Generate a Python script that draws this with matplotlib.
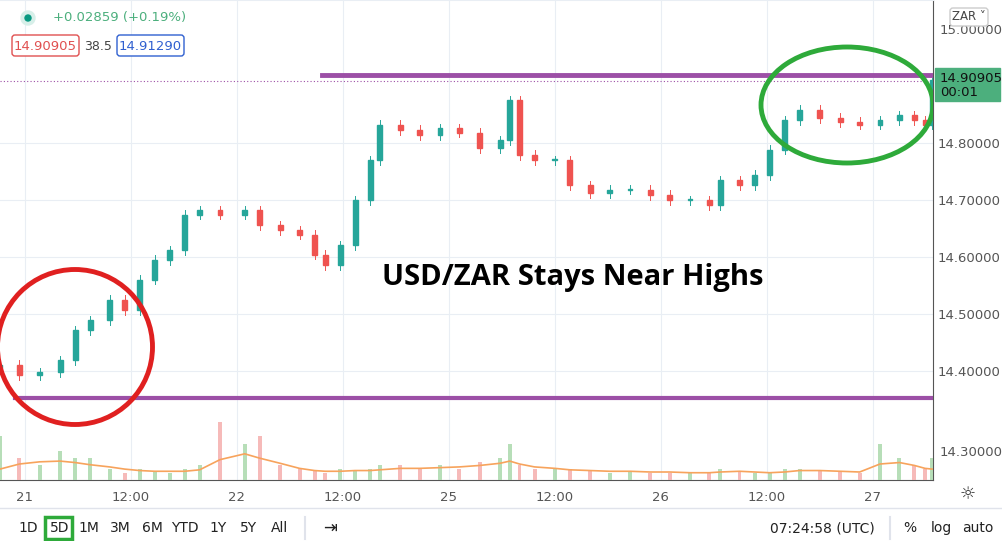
import matplotlib
matplotlib.use("Agg")
import matplotlib.pyplot as plt
from matplotlib.patches import Ellipse, FancyBboxPatch, Rectangle

hours = [-2.8,-0.6,1.7,4.0,5.7,7.4,9.6,11.3,13.0,14.7,16.4,18.1,19.8,22.1,24.9,26.6,28.9,31.1,32.8,34.0,35.7,37.4,39.1,40.2,42.5,44.7,47.0,49.2,51.5,53.8,54.9,56.0,57.7,60.0,61.7,64.0,66.2,68.5,70.8,73.0,75.3,77.5,78.7,80.9,82.6,84.3,86.0,87.7,90.0,92.3,94.5,96.8,99.0,100.7,101.9,102.7]
close = [14.411,14.393,14.398,14.419,14.472,14.489,14.525,14.507,14.560,14.595,14.612,14.674,14.682,14.674,14.682,14.656,14.647,14.639,14.604,14.586,14.621,14.700,14.770,14.832,14.823,14.814,14.826,14.818,14.791,14.805,14.875,14.779,14.770,14.770,14.726,14.712,14.718,14.718,14.709,14.700,14.700,14.691,14.735,14.726,14.744,14.788,14.840,14.858,14.844,14.837,14.832,14.840,14.849,14.840,14.832,14.911]
volume = [6,3,2,4,3,3,1.5,1,1.5,1.2,1,1.5,2,8,5,6,2,1.5,1.2,1,1.5,1.2,1.5,2,2,1.5,2,1.5,2.5,3,5,2,1.5,1.5,1.5,1.2,1,1.2,1,1,1,1,1.5,1.2,1,1,1.5,1.5,1.2,1.2,1,5,3,2,1.5,3]
vol_ma = [1.5,2.2,2.5,2.6,2.4,2.1,1.8,1.5,1.3,1.2,1.2,1.2,1.4,2.8,3.6,3.0,2.3,1.6,1.3,1.2,1.2,1.3,1.3,1.4,1.6,1.6,1.7,1.8,2.0,2.3,2.6,2.2,1.8,1.6,1.4,1.3,1.2,1.2,1.1,1.1,1.0,1.0,1.1,1.2,1.1,1.0,1.1,1.3,1.3,1.2,1.1,2.2,2.4,2.0,1.6,1.5]
xtick_pos = [0,12,24,36,48,60,72,84,96]
xtick_lab = ["21","12:00","22","12:00","25","12:00","26","12:00","27"]
ytick_vals = [14.4,14.5,14.6,14.7,14.8]
upper_level = 14.919
lower_level = 14.353
last_price = 14.90905

W,H = 1002,541
fig = plt.figure(figsize=(W/100,H/100),dpi=100)
def rect(x0,y0,x1,y1):
    return [x0/W,1-y1/H,(x1-x0)/W,(y1-y0)/H]
ax = fig.add_axes(rect(0,0,933,480))
ax.set_xlim(-2.8,102.8)
ax.set_ylim(14.209,15.051)
for s in ax.spines.values(): s.set_visible(False)
ax.spines['right'].set_visible(True); ax.spines['right'].set_color('#555')
ax.spines['bottom'].set_visible(True); ax.spines['bottom'].set_color('#555')
ax.yaxis.tick_right()
ax.set_yticks(ytick_vals)
ax.set_yticklabels([f"{v:.5f}" for v in ytick_vals],color='#555',fontsize=9.5)
ax.set_xticks(xtick_pos)
ax.set_xticklabels(xtick_lab,color='#555',fontsize=9.5)
ax.tick_params(axis='y',length=0,pad=3)
ax.tick_params(axis='x',length=0,pad=8)
ax.grid(True,color='#e9eef4',lw=0.8)
ax.set_axisbelow(True)

# candles
w=0.55
prev=close[0]-0.005
for t,c in zip(hours,close):
    o=prev
    col='#26a69a' if c>=o else '#ef5350'
    hi=max(o,c)+0.008; lo=min(o,c)-0.008
    ax.plot([t,t],[lo,hi],color=col,lw=0.7,zorder=3)
    ax.add_patch(Rectangle((t-w/2,min(o,c)),w,max(abs(c-o),0.002),color=col,zorder=3))
    prev=c

# volume
vax = fig.add_axes(rect(0,400,933,480))
vax.set_xlim(ax.get_xlim()); vax.set_ylim(0,11); vax.axis('off')
prev=close[0]
for t,v,c in zip(hours,volume,close):
    vax.bar(t,v,width=0.45,color='#a5d6a7' if c>=prev else '#f4a9a8',alpha=0.8)
    prev=c
vax.plot(hours,vol_ma,color='#f7a35c',lw=1.2)

# levels
ax.plot([33.6,102.8],[upper_level]*2,color='#9c4fa6',lw=3.5,zorder=4)
ax.plot([-1.1,102.8],[lower_level]*2,color='#9c4fa6',lw=3,zorder=4)
ax.axhline(last_price,color='#9c4fa6',lw=0.8,ls=(0,(1,2)),zorder=2)

# ellipses in pixel space
ax2 = fig.add_axes(rect(0,0,933,480)); ax2.set_xlim(0,933); ax2.set_ylim(480,0); ax2.axis('off')
ax2.add_patch(Ellipse((75,347),155,155,fill=False,ec='#e02020',lw=3.5))
ax2.add_patch(Ellipse((847,105),172,116,fill=False,ec='#2eaa3a',lw=3.5))
ax2.text(573,277,"USD/ZAR Stays Near Highs",fontsize=21,fontweight='bold',family='Open Sans',ha='center',va='center')

# overlay
ov = fig.add_axes([0,0,1,1]); ov.set_xlim(0,W); ov.set_ylim(H,0); ov.axis('off')
ov.add_patch(Rectangle((935,68),65,33,color='#4caf7d'))
ov.text(940,78,"14.90905",fontsize=9.5,va='center',color='#111')
ov.text(940,93,"00:01",fontsize=9.5,va='center',color='#111')
ov.text(940,30,"15.00000",fontsize=9.5,va='center',color='#555')
ov.text(940,453,"14.30000",fontsize=9.5,va='center',color='#555')
ov.add_patch(FancyBboxPatch((950,8),38,18,boxstyle='round,pad=0,rounding_size=3',fc='white',ec='#ccc',zorder=5))
ov.text(969,17,"ZAR ˅",fontsize=8.5,ha='center',va='center',color='#444',zorder=6)
ov.plot([0,933],[0,0],color='#e9eef4')
ov.add_patch(Ellipse((28,18),14,14,color='#d7efe9')); ov.add_patch(Ellipse((28,18),6,6,color='#089981'))
ov.text(53,18,"+0.02859 (+0.19%)",fontsize=9.5,color='#4caf7d',va='center')
ov.add_patch(FancyBboxPatch((12,35),67,21,boxstyle='round,pad=0,rounding_size=3',fc='white',ec='#e05050'))
ov.text(45,46,"14.90905",fontsize=9.5,color='#e05050',ha='center',va='center')
ov.text(98,46,"38.5",fontsize=9,color='#444',ha='center',va='center')
ov.add_patch(FancyBboxPatch((117,35),67,21,boxstyle='round,pad=0,rounding_size=3',fc='white',ec='#3060d0'))
ov.text(150,46,"14.91290",fontsize=9.5,color='#3060d0',ha='center',va='center')
ov.plot([0,W],[508,508],color='#e0e3eb',lw=1)
ov.text(968,494,"☼",fontsize=13,ha='center',va='center',color='#333')
for x,lab in zip([28,60,89,120,152,185,218,249,280],["1D","5D","1M","3M","6M","YTD","1Y","5Y","All"]):
    ov.text(x,528,lab,fontsize=10,ha='center',va='center',color='#222')
ov.add_patch(Rectangle((45,517),27,22,fill=False,ec='#2eaa3a',lw=2.5))
ov.plot([305,305],[517,539],color='#e0e3eb')
ov.text(330,528,"⇥",fontsize=12,ha='center',va='center',color='#222')
ov.text(822,528,"07:24:58 (UTC)",fontsize=10,ha='center',va='center',color='#222')
ov.plot([890,890],[517,539],color='#e0e3eb')
ov.text(910,528,"%",fontsize=10,ha='center',va='center',color='#222')
ov.text(941,528,"log",fontsize=10,ha='center',va='center',color='#222')
ov.text(978,528,"auto",fontsize=10,ha='center',va='center',color='#222')
fig.savefig("out.png",dpi=100)
